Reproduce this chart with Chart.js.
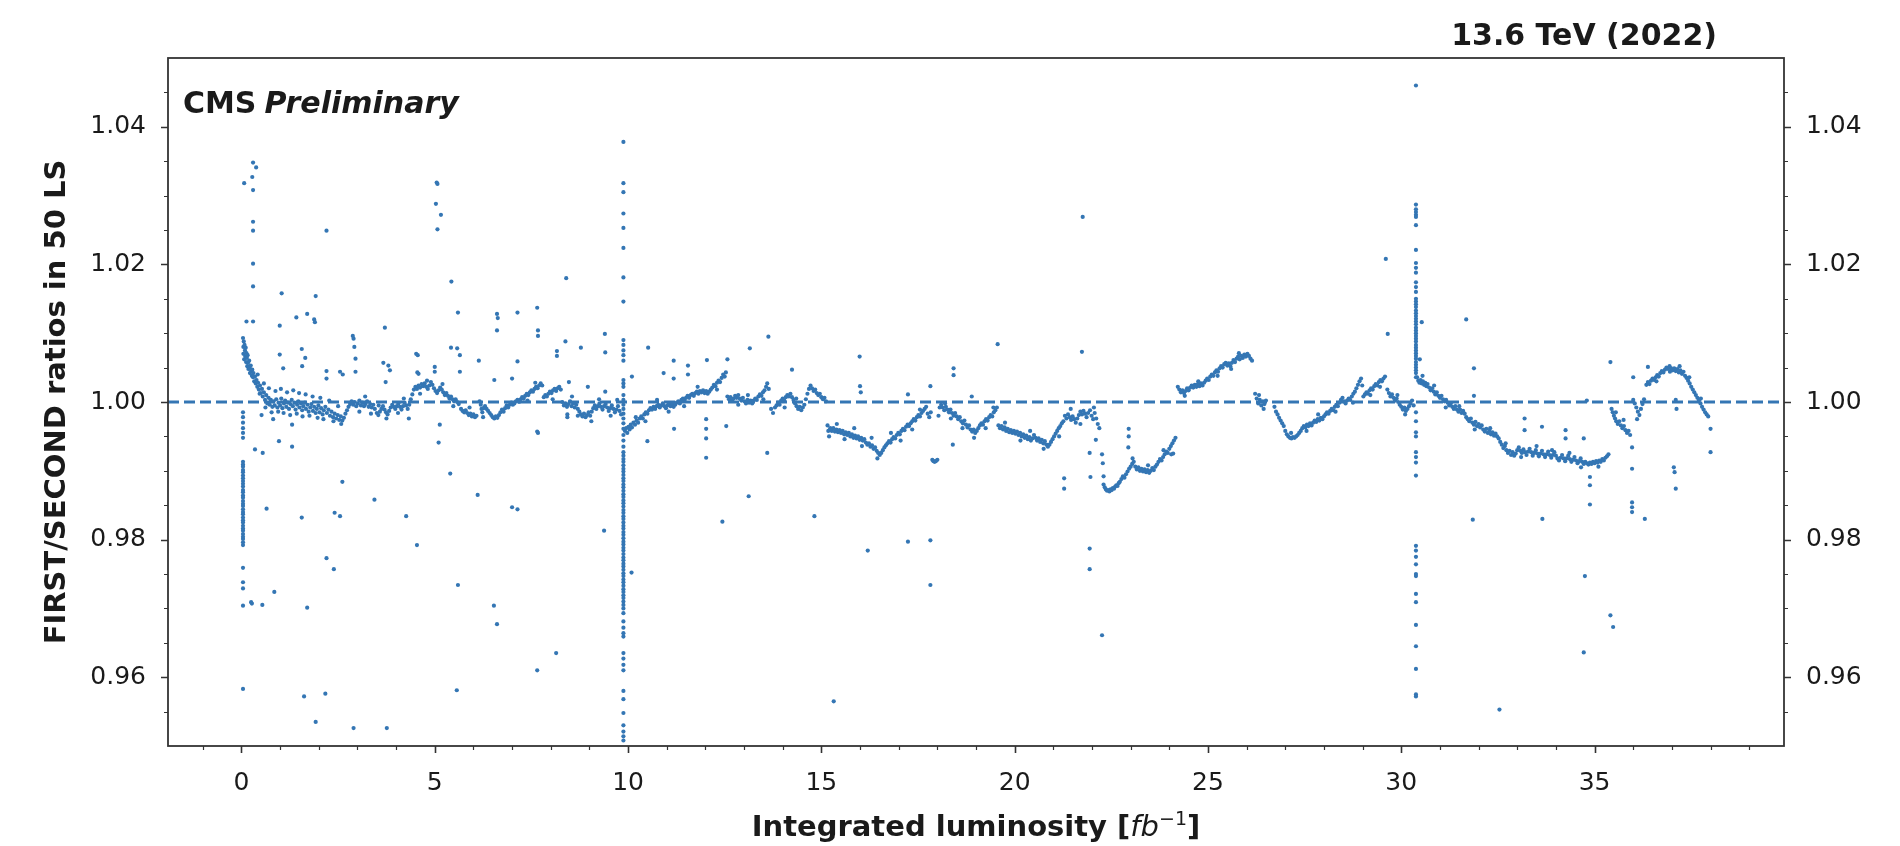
<!DOCTYPE html>
<html>
<head>
<meta charset="utf-8">
<title>FIRST/SECOND ratios in 50 LS</title>
<script src="https://cdn.jsdelivr.net/npm/chart.js@4.4.0/dist/chart.umd.min.js"></script>
<style>
    html, body { margin: 0; padding: 0; background: #ffffff; }
    #ratio-chart { display: block; }
</style>
</head>
<body>
<canvas id="ratio-chart" width="1900" height="846"></canvas>
<script>
// Axis setup
const xLimits = [-1.9, 39.9];
const yLimits = [0.95, 1.05];
const xMajorTicks = [0, 5, 10, 15, 20, 25, 30, 35];
const xMinorTicks = [-1, 1, 2, 3, 4, 6, 7, 8, 9, 11, 12, 13, 14, 16, 17, 18, 19, 21, 22, 23, 24, 26, 27, 28, 29, 31, 32, 33, 34, 36, 37, 38, 39];
const yMajorTicks = [0.96, 0.98, 1.00, 1.02, 1.04];
const yMinorTicks = [0.955, 0.965, 0.97, 0.975, 0.985, 0.99, 0.995, 1.005, 1.01, 1.015, 1.025, 1.03, 1.035, 1.045];
const refRatio = 1.0;

// Main trend [lumi, ratio], run 1 (0 - 9.8 fb-1)
const bandA = [
    [0.04,1.0093],[0.05,1.0080],[0.05,1.0070],[0.06,1.0088],[0.07,1.0062],[0.08,1.0083],[0.09,1.0075],[0.10,1.0066],
    [0.11,1.0079],[0.12,1.0058],[0.13,1.0071],[0.14,1.0064],[0.15,1.0052],[0.16,1.0068],[0.17,1.0057],[0.18,1.0048],
    [0.20,1.0060],[0.21,1.0050],[0.22,1.0042],[0.24,1.0053],[0.25,1.0045],[0.27,1.0038],[0.28,1.0047],[0.30,1.0036],
    [0.31,1.0042],[0.33,1.0030],[0.35,1.0037],[0.37,1.0027],[0.39,1.0032],[0.41,1.0022],[0.43,1.0028],[0.45,1.0018],
    [0.48,1.0024],[0.50,1.0013],[0.53,1.0019],[0.55,1.0008],[0.58,1.0014],[0.61,1.0003],[0.64,1.0010],[0.67,0.9998],
    [0.70,1.0006],[0.73,0.9996],[0.76,1.0003],[0.80,0.9993],[0.83,1.0001],[0.86,0.9995],[0.90,1.0004],[0.93,0.9992],
    [0.96,0.9999],[1.00,0.9995],[1.03,1.0005],[1.06,0.9991],[1.10,0.9998],[1.13,1.0002],[1.16,0.9993],[1.20,0.9999],
    [1.23,0.9990],[1.27,0.9997],[1.30,1.0003],[1.33,0.9994],[1.37,0.9999],[1.40,0.9989],[1.44,0.9996],[1.47,1.0001],
    [1.50,0.9992],[1.54,0.9998],[1.57,0.9988],[1.60,0.9994],[1.64,0.9999],[1.67,0.9990],[1.71,0.9996],[1.74,0.9986],
    [1.78,0.9992],[1.81,0.9997],[1.85,0.9987],[1.88,0.9993],[1.92,0.9984],[1.95,0.9990],[1.99,0.9995],[2.02,0.9985],
    [2.06,0.9991],[2.10,0.9982],[2.13,0.9988],[2.17,0.9993],[2.21,0.9984],[2.25,0.9989],[2.29,0.9980],[2.33,0.9986],
    [2.37,0.9978],[2.41,0.9983],[2.45,0.9976],[2.49,0.9981],[2.53,0.9974],[2.57,0.9979],[2.61,0.9973],[2.65,0.9977],
    [2.69,0.9983],[2.73,0.9988],[2.77,0.9993],[2.81,0.9997],[2.85,1.0001],[2.89,0.9996],[2.93,1.0000],[2.97,0.9994],
    [3.01,0.9998],[3.05,1.0002],[3.09,0.9995],[3.13,0.9999],[3.17,0.9994],[3.21,0.9997],[3.25,1.0001],[3.29,0.9993],
    [3.33,0.9997],[3.37,0.9992],[3.41,0.9996],[3.45,0.9990],[3.50,0.9984],[3.54,0.9981],[3.58,0.9986],[3.62,0.9990],
    [3.66,0.9994],[3.70,0.9989],[3.74,0.9985],[3.78,0.9982],[3.82,0.9987],[3.86,0.9992],[3.90,0.9996],[3.94,0.9993],
    [3.98,0.9990],[4.02,0.9994],[4.06,0.9998],[4.10,0.9993],[4.14,0.9989],[4.18,0.9994],[4.22,0.9999],[4.26,0.9995],
    [4.30,0.9990],[4.34,0.9996],[4.38,1.0004],[4.42,1.0011],[4.46,1.0018],[4.50,1.0022],[4.54,1.0019],[4.58,1.0024],
    [4.62,1.0021],[4.66,1.0026],[4.70,1.0023],[4.74,1.0027],[4.78,1.0022],[4.82,1.0019],[4.86,1.0024],[4.90,1.0029],
    [4.94,1.0025],[4.98,1.0020],[5.02,1.0016],[5.06,1.0013],[5.10,1.0017],[5.14,1.0021],[5.18,1.0018],[5.22,1.0014],
    [5.26,1.0010],[5.30,1.0013],[5.34,1.0009],[5.38,1.0005],[5.42,1.0008],[5.46,1.0004],[5.50,1.0001],[5.54,1.0004],
    [5.58,1.0000],[5.62,0.9997],[5.68,0.9990],[5.72,0.9987],[5.76,0.9985],[5.80,0.9988],[5.84,0.9984],[5.88,0.9981],
    [5.92,0.9983],[5.96,0.9979],[6.00,0.9982],[6.04,0.9978],[6.08,0.9980],[6.16,1.0001],[6.19,0.9996],[6.21,0.9990],
    [6.23,0.9985],[6.26,0.9991],[6.30,0.9994],[6.34,0.9990],[6.38,0.9987],[6.42,0.9984],[6.46,0.9981],[6.50,0.9978],
    [6.54,0.9976],[6.58,0.9979],[6.62,0.9977],[6.66,0.9981],[6.70,0.9985],[6.74,0.9989],[6.78,0.9986],[6.82,0.9991],
    [6.86,0.9995],[6.90,0.9992],[6.94,0.9996],[6.98,0.9999],[7.02,0.9996],[7.06,0.9998],[7.10,1.0001],[7.14,1.0003],
    [7.18,1.0000],[7.22,1.0004],[7.26,1.0007],[7.30,1.0005],[7.34,1.0009],[7.38,1.0012],[7.42,1.0010],[7.46,1.0014],
    [7.50,1.0017],[7.54,1.0015],[7.58,1.0019],[7.62,1.0022],[7.66,1.0020],[7.70,1.0024],[7.74,1.0027],[7.78,1.0024],
    [7.82,1.0007],[7.86,1.0010],[7.90,1.0008],[7.94,1.0012],[7.98,1.0015],[8.02,1.0013],[8.06,1.0017],[8.10,1.0019],
    [8.14,1.0016],[8.18,1.0020],[8.22,1.0022],[8.26,1.0018],[8.30,1.0000],[8.34,0.9995],[8.38,0.9998],[8.42,0.9993],
    [8.46,0.9997],[8.50,1.0001],[8.54,0.9994],[8.58,0.9998],[8.62,0.9992],[8.66,0.9996],[8.70,0.9990],[8.74,0.9986],
    [8.78,0.9982],[8.82,0.9979],[8.86,0.9983],[8.90,0.9978],[8.94,0.9981],[8.98,0.9985],[9.02,0.9980],[9.06,0.9986],
    [9.10,0.9991],[9.14,0.9995],[9.18,0.9990],[9.22,0.9994],[9.26,0.9998],[9.30,0.9993],[9.34,0.9989],[9.38,0.9994],
    [9.42,0.9997],[9.46,0.9992],[9.50,0.9987],[9.54,0.9991],[9.58,0.9995],[9.62,0.9990],[9.66,0.9985],[9.70,0.9989],
    [9.74,0.9994],[9.78,0.9987],[9.82,0.9982]
];

// Main trend, run 2 (9.9 - 24.2 fb-1)
const bandB = [
    [9.92,0.9958],[9.95,0.9962],[9.98,0.9955],[10.01,0.9964],[10.04,0.9960],[10.07,0.9967],[10.10,0.9963],[10.14,0.9970],
    [10.18,0.9967],[10.22,0.9973],[10.26,0.9970],[10.30,0.9976],[10.34,0.9979],[10.38,0.9976],[10.42,0.9982],[10.46,0.9985],
    [10.50,0.9983],[10.54,0.9988],[10.58,0.9991],[10.62,0.9989],[10.66,0.9993],[10.70,0.9990],[10.74,0.9994],[10.78,0.9996],
    [10.82,0.9992],[10.86,0.9995],[10.90,0.9998],[10.94,0.9994],[10.98,0.9991],[11.02,0.9995],[11.06,0.9998],[11.10,0.9994],
    [11.14,0.9997],[11.18,0.9993],[11.22,0.9996],[11.26,0.9999],[11.30,1.0001],[11.34,0.9998],[11.38,1.0003],[11.42,1.0005],
    [11.46,1.0002],[11.50,1.0006],[11.54,1.0009],[11.58,1.0006],[11.62,1.0010],[11.66,1.0012],[11.70,1.0009],[11.74,1.0013],
    [11.78,1.0015],[11.82,1.0012],[11.86,1.0016],[11.90,1.0014],[11.94,1.0017],[11.98,1.0013],[12.02,1.0016],[12.06,1.0012],
    [12.10,1.0015],[12.14,1.0018],[12.18,1.0021],[12.22,1.0025],[12.26,1.0023],[12.30,1.0028],[12.34,1.0031],[12.38,1.0029],
    [12.42,1.0035],[12.46,1.0040],[12.50,1.0037],[12.53,1.0043],[12.57,1.0008],[12.61,1.0004],[12.65,1.0007],[12.69,1.0002],
    [12.73,1.0005],[12.77,1.0009],[12.81,1.0006],[12.85,1.0010],[12.89,1.0005],[12.93,1.0002],[12.97,1.0006],[13.01,1.0001],
    [13.05,0.9998],[13.09,1.0003],[13.13,0.9999],[13.17,1.0002],[13.21,0.9998],[13.25,1.0002],[13.29,1.0005],[13.33,1.0003],
    [13.37,1.0008],[13.41,1.0011],[13.45,1.0009],[13.49,1.0014],[13.53,1.0017],[13.57,1.0022],[13.60,1.0027],[13.64,1.0019],
    [13.70,0.9990],[13.75,0.9984],[13.80,0.9992],[13.84,0.9995],[13.88,0.9999],[13.92,0.9996],[13.96,1.0002],[14.00,1.0005],
    [14.04,1.0002],[14.08,1.0007],[14.12,1.0010],[14.16,1.0008],[14.20,1.0012],[14.24,1.0007],[14.28,1.0003],[14.32,0.9998],
    [14.36,0.9994],[14.40,0.9990],[14.44,0.9993],[14.48,0.9988],[14.52,0.9992],[14.56,0.9996],[14.60,1.0004],[14.64,1.0012],
    [14.68,1.0019],[14.72,1.0024],[14.76,1.0020],[14.80,1.0016],[14.84,1.0018],[14.88,1.0013],[14.92,1.0010],[14.96,1.0012],
    [15.00,1.0007],[15.04,1.0004],[15.08,1.0006],[15.12,1.0001],[15.16,0.9966],[15.18,0.9958],[15.20,0.9950],[15.23,0.9962],
    [15.27,0.9958],[15.31,0.9962],[15.35,0.9957],[15.39,0.9960],[15.43,0.9956],[15.47,0.9959],[15.51,0.9955],[15.55,0.9958],
    [15.59,0.9953],[15.63,0.9956],[15.67,0.9952],[15.71,0.9955],[15.75,0.9950],[15.79,0.9953],[15.83,0.9948],[15.87,0.9951],
    [15.91,0.9947],[15.95,0.9950],[15.99,0.9945],[16.03,0.9948],[16.07,0.9944],[16.11,0.9946],[16.15,0.9941],[16.19,0.9938],
    [16.23,0.9940],[16.27,0.9935],[16.31,0.9937],[16.35,0.9932],[16.39,0.9934],[16.43,0.9929],[16.47,0.9926],[16.51,0.9923],
    [16.55,0.9926],[16.59,0.9930],[16.63,0.9934],[16.67,0.9937],[16.71,0.9940],[16.75,0.9943],[16.79,0.9941],[16.83,0.9946],
    [16.87,0.9949],[16.91,0.9947],[16.95,0.9952],[16.99,0.9955],[17.03,0.9953],[17.07,0.9958],[17.11,0.9961],[17.15,0.9959],
    [17.19,0.9964],[17.23,0.9967],[17.27,0.9965],[17.31,0.9969],[17.35,0.9972],[17.39,0.9975],[17.43,0.9973],[17.47,0.9978],
    [17.51,0.9981],[17.55,0.9979],[17.59,0.9984],[17.63,0.9987],[17.67,0.9990],[17.71,0.9993],[17.75,0.9983],[17.79,0.9978],
    [17.83,0.9985],[17.87,0.9916],[17.90,0.9914],[17.93,0.9913],[17.96,0.9914],[18.00,0.9916],[18.03,0.9980],[18.06,0.9992],
    [18.10,0.9996],[18.14,0.9992],[18.18,0.9988],[18.22,0.9993],[18.26,0.9989],[18.30,0.9985],[18.34,0.9989],[18.38,0.9984],
    [18.42,0.9980],[18.46,0.9984],[18.50,0.9979],[18.54,0.9975],[18.58,0.9978],[18.62,0.9972],[18.66,0.9969],[18.70,0.9973],
    [18.74,0.9967],[18.78,0.9963],[18.82,0.9966],[18.86,0.9960],[18.90,0.9957],[18.94,0.9960],[18.98,0.9955],[19.02,0.9958],
    [19.06,0.9962],[19.10,0.9966],[19.14,0.9969],[19.18,0.9967],[19.22,0.9972],[19.26,0.9975],[19.30,0.9973],[19.34,0.9978],
    [19.38,0.9981],[19.42,0.9979],[19.46,0.9985],[19.50,0.9988],[19.54,0.9992],[19.58,0.9966],[19.62,0.9962],[19.66,0.9965],
    [19.70,0.9960],[19.74,0.9963],[19.78,0.9958],[19.82,0.9961],[19.86,0.9956],[19.90,0.9959],[19.94,0.9955],[19.98,0.9958],
    [20.02,0.9954],[20.06,0.9957],[20.10,0.9952],[20.14,0.9955],[20.18,0.9950],[20.22,0.9953],[20.26,0.9948],[20.30,0.9951],
    [20.34,0.9946],[20.38,0.9949],[20.42,0.9944],[20.46,0.9947],[20.50,0.9952],[20.54,0.9948],[20.58,0.9944],[20.62,0.9947],
    [20.66,0.9942],[20.70,0.9945],[20.74,0.9940],[20.78,0.9943],[20.82,0.9938],[20.86,0.9935],[20.90,0.9938],[20.94,0.9942],
    [20.98,0.9946],[21.02,0.9950],[21.06,0.9954],[21.10,0.9958],[21.14,0.9962],[21.18,0.9965],[21.22,0.9969],[21.26,0.9972],
    [21.30,0.9980],[21.34,0.9976],[21.38,0.9982],[21.42,0.9978],[21.46,0.9974],[21.50,0.9979],[21.54,0.9975],[21.58,0.9970],
    [21.62,0.9976],[21.66,0.9981],[21.70,0.9986],[21.74,0.9982],[21.78,0.9987],[21.82,0.9983],[21.86,0.9978],[21.90,0.9984],
    [21.95,0.9988],[21.99,0.9980],[22.03,0.9975],[22.07,0.9984],[22.11,0.9976],[22.15,0.9968],[22.19,0.9962],[22.30,0.9880],
    [22.33,0.9876],[22.36,0.9873],[22.39,0.9871],[22.42,0.9872],[22.45,0.9870],[22.48,0.9873],[22.51,0.9872],[22.54,0.9875],
    [22.57,0.9874],[22.60,0.9877],[22.63,0.9879],[22.66,0.9878],[22.69,0.9882],[22.72,0.9884],[22.76,0.9888],[22.80,0.9892],
    [22.84,0.9890],[22.88,0.9895],[22.92,0.9899],[22.96,0.9903],[23.00,0.9906],[23.04,0.9910],[23.08,0.9913],[23.12,0.9906],
    [23.16,0.9902],[23.20,0.9905],[23.24,0.9900],[23.28,0.9903],[23.32,0.9899],[23.36,0.9902],[23.40,0.9898],[23.44,0.9901],
    [23.48,0.9897],[23.52,0.9900],[23.56,0.9904],[23.60,0.9901],[23.64,0.9906],[23.68,0.9909],[23.72,0.9913],[23.76,0.9917],
    [23.80,0.9915],[23.84,0.9920],[23.88,0.9924],[23.92,0.9928],[23.96,0.9926],[24.00,0.9932],[24.04,0.9936],[24.08,0.9940],
    [24.12,0.9944],[24.16,0.9948]
];

// Main trend, run 3 (24.2 - 38 fb-1)
const bandC = [
    [24.22,1.0022],[24.26,1.0018],[24.30,1.0014],[24.34,1.0017],[24.38,1.0013],[24.42,1.0016],[24.46,1.0020],[24.50,1.0017],
    [24.54,1.0021],[24.58,1.0024],[24.62,1.0021],[24.66,1.0025],[24.70,1.0022],[24.74,1.0026],[24.78,1.0023],[24.82,1.0027],
    [24.86,1.0024],[24.90,1.0028],[24.94,1.0031],[24.98,1.0034],[25.02,1.0032],[25.06,1.0037],[25.10,1.0040],[25.14,1.0038],
    [25.18,1.0043],[25.22,1.0046],[25.26,1.0044],[25.30,1.0049],[25.34,1.0052],[25.38,1.0050],[25.42,1.0055],[25.46,1.0057],
    [25.50,1.0053],[25.54,1.0056],[25.58,1.0052],[25.62,1.0057],[25.66,1.0061],[25.70,1.0058],[25.74,1.0063],[25.78,1.0066],
    [25.82,1.0062],[25.86,1.0067],[25.90,1.0064],[25.94,1.0069],[25.98,1.0066],[26.02,1.0070],[26.06,1.0067],[26.10,1.0063],
    [26.14,1.0060],[26.22,1.0012],[26.26,1.0005],[26.30,0.9998],[26.34,1.0003],[26.38,0.9995],[26.42,1.0001],[26.46,0.9997],
    [26.50,1.0002],[26.72,0.9993],[26.76,0.9986],[26.80,0.9982],[26.84,0.9977],[26.88,0.9973],[26.92,0.9969],[26.96,0.9965],
    [27.00,0.9958],[27.04,0.9953],[27.08,0.9950],[27.12,0.9948],[27.16,0.9947],[27.20,0.9949],[27.24,0.9948],[27.28,0.9950],
    [27.32,0.9952],[27.36,0.9955],[27.40,0.9958],[27.44,0.9962],[27.48,0.9965],[27.52,0.9963],[27.56,0.9967],[27.60,0.9965],
    [27.64,0.9969],[27.68,0.9966],[27.72,0.9970],[27.76,0.9973],[27.80,0.9971],[27.84,0.9975],[27.88,0.9973],[27.92,0.9977],
    [27.96,0.9975],[28.00,0.9979],[28.04,0.9982],[28.08,0.9985],[28.12,0.9983],[28.16,0.9987],[28.20,0.9990],[28.24,0.9988],
    [28.28,0.9993],[28.32,0.9996],[28.36,0.9994],[28.40,0.9999],[28.44,1.0003],[28.48,1.0006],[28.52,1.0001],[28.56,0.9998],
    [28.60,1.0002],[28.64,1.0005],[28.68,1.0003],[28.72,1.0008],[28.76,1.0012],[28.80,1.0015],[28.84,1.0020],[28.88,1.0025],
    [28.92,1.0030],[28.96,1.0034],[28.99,1.0024],[29.02,1.0008],[29.06,1.0011],[29.10,1.0014],[29.14,1.0012],[29.18,1.0017],
    [29.22,1.0020],[29.26,1.0018],[29.30,1.0023],[29.34,1.0026],[29.38,1.0024],[29.42,1.0029],[29.46,1.0032],[29.50,1.0030],
    [29.54,1.0034],[29.58,1.0037],[29.64,1.0018],[29.68,1.0013],[29.72,1.0008],[29.76,1.0011],[29.80,1.0006],[29.84,1.0002],
    [29.88,1.0005],[29.92,1.0000],[29.96,0.9996],[30.00,0.9993],[30.04,0.9989],[30.08,0.9992],[30.12,0.9987],[30.16,0.9990],
    [30.20,0.9994],[30.24,0.9998],[30.28,1.0002],[30.32,0.9995],[30.41,1.0036],[30.44,1.0031],[30.47,1.0028],[30.50,1.0032],
    [30.53,1.0027],[30.56,1.0030],[30.59,1.0025],[30.62,1.0028],[30.65,1.0023],[30.68,1.0026],[30.72,1.0021],[30.76,1.0017],
    [30.80,1.0020],[30.84,1.0015],[30.88,1.0011],[30.92,1.0014],[30.96,1.0009],[31.00,1.0006],[31.04,1.0009],[31.08,1.0004],
    [31.12,1.0001],[31.16,1.0003],[31.20,0.9999],[31.24,0.9995],[31.28,0.9998],[31.32,0.9993],[31.36,0.9990],[31.40,0.9994],
    [31.44,0.9989],[31.48,0.9986],[31.52,0.9989],[31.56,0.9984],[31.60,0.9987],[31.64,0.9983],[31.68,0.9978],[31.72,0.9975],
    [31.76,0.9972],[31.80,0.9976],[31.84,0.9970],[31.88,0.9967],[31.92,0.9971],[31.96,0.9965],[32.00,0.9968],[32.04,0.9963],
    [32.08,0.9966],[32.12,0.9960],[32.16,0.9957],[32.20,0.9961],[32.24,0.9955],[32.28,0.9958],[32.32,0.9953],[32.36,0.9956],
    [32.40,0.9951],[32.44,0.9954],[32.48,0.9950],[32.52,0.9947],[32.56,0.9942],[32.60,0.9938],[32.64,0.9933],[32.68,0.9936],
    [32.72,0.9930],[32.76,0.9926],[32.80,0.9929],[32.84,0.9923],[32.88,0.9927],[32.92,0.9922],[32.96,0.9925],[33.00,0.9930],
    [33.04,0.9934],[33.08,0.9929],[33.12,0.9926],[33.16,0.9931],[33.20,0.9927],[33.24,0.9923],[33.28,0.9928],[33.32,0.9932],
    [33.36,0.9927],[33.40,0.9922],[33.44,0.9926],[33.48,0.9930],[33.52,0.9925],[33.56,0.9921],[33.60,0.9925],[33.64,0.9929],
    [33.68,0.9924],[33.72,0.9920],[33.76,0.9924],[33.80,0.9928],[33.84,0.9923],[33.88,0.9919],[33.92,0.9923],[33.96,0.9927],
    [34.00,0.9922],[34.04,0.9918],[34.08,0.9915],[34.12,0.9919],[34.16,0.9923],[34.20,0.9918],[34.24,0.9914],[34.28,0.9918],
    [34.32,0.9922],[34.36,0.9917],[34.40,0.9913],[34.44,0.9916],[34.48,0.9920],[34.52,0.9915],[34.56,0.9911],[34.60,0.9914],
    [34.64,0.9918],[34.68,0.9913],[34.72,0.9910],[34.76,0.9913],[34.80,0.9911],[34.84,0.9909],[34.88,0.9912],[34.92,0.9910],
    [34.96,0.9913],[35.00,0.9911],[35.04,0.9914],[35.08,0.9912],[35.12,0.9915],[35.16,0.9913],[35.20,0.9917],[35.24,0.9915],
    [35.28,0.9919],[35.32,0.9921],[35.36,0.9924],[35.44,0.9990],[35.47,0.9985],[35.50,0.9980],[35.53,0.9976],[35.56,0.9972],
    [35.60,0.9968],[35.64,0.9972],[35.68,0.9966],[35.72,0.9962],[35.76,0.9965],[35.80,0.9959],[35.84,0.9955],[35.88,0.9958],
    [35.92,0.9952],[36.00,1.0003],[36.04,0.9998],[36.08,0.9992],[36.12,0.9986],[36.16,0.9981],[36.20,0.9990],[36.24,0.9997],
    [36.28,1.0004],[36.34,1.0025],[36.38,1.0029],[36.42,1.0026],[36.46,1.0031],[36.50,1.0034],[36.54,1.0032],[36.58,1.0036],
    [36.62,1.0039],[36.66,1.0037],[36.70,1.0042],[36.74,1.0045],[36.78,1.0043],[36.82,1.0047],[36.86,1.0050],[36.90,1.0048],
    [36.94,1.0052],[36.98,1.0049],[37.02,1.0046],[37.06,1.0049],[37.10,1.0045],[37.14,1.0048],[37.18,1.0043],[37.22,1.0046],
    [37.26,1.0041],[37.30,1.0044],[37.34,1.0038],[37.38,1.0035],[37.42,1.0031],[37.46,1.0027],[37.50,1.0022],[37.54,1.0018],
    [37.58,1.0014],[37.62,1.0010],[37.66,1.0006],[37.70,1.0002],[37.74,0.9998],[37.78,0.9993],[37.82,0.9989],[37.86,0.9985],
    [37.90,0.9982],[37.94,0.9979]
];

// Scatter hugging the trend
const bandSpread = [
    [0.42,1.0040],[0.47,1.0012],[0.58,1.0027],[0.62,0.9992],[0.71,1.0020],[0.78,0.9985],[0.88,1.0016],[0.95,0.9986],
    [1.02,1.0019],[1.09,0.9984],[1.18,1.0014],[1.26,0.9981],[1.34,1.0017],[1.43,0.9983],[1.49,1.0013],[1.58,0.9979],
    [1.66,1.0011],[1.76,0.9980],[1.84,1.0008],[1.97,0.9977],[2.04,1.0006],[2.12,0.9975],[2.27,1.0002],[2.38,0.9972],
    [2.50,0.9994],[2.58,0.9968],[3.05,0.9986],[3.20,1.0008],[3.35,0.9983],[3.55,0.9995],[3.75,0.9976],[4.05,0.9984],
    [4.20,1.0005],[4.33,0.9976],[4.62,1.0012],[4.80,1.0031],[5.20,1.0026],[5.48,0.9994],[5.90,0.9992],[6.25,0.9978],
    [7.40,1.0002],[7.60,1.0028],[8.05,1.0004],[8.55,1.0008],[8.70,0.9980],[9.05,0.9972],[9.25,1.0004],[9.55,0.9980],
    [9.72,1.0003],[10.20,0.9978],[10.45,0.9972],[10.75,1.0003],[11.05,0.9986],[11.45,0.9994],[11.80,1.0022],[12.30,1.0018],
    [12.85,0.9996],[13.10,1.0010],[13.50,1.0004],[14.05,0.9992],[14.35,1.0005],[15.40,0.9968],[15.60,0.9946],[15.85,0.9962],
    [16.05,0.9936],[16.30,0.9948],[16.45,0.9918],[16.80,0.9955],[17.05,0.9944],[17.35,0.9960],[17.55,0.9989],[18.20,0.9998],
    [18.35,0.9976],[18.65,0.9962],[18.95,0.9948],[19.25,0.9962],[19.45,0.9992],[19.75,0.9970],[20.15,0.9944],[20.40,0.9958],
    [20.75,0.9932],[21.15,0.9950],[21.45,0.9990],[21.70,0.9968],[22.05,0.9992],[23.05,0.9918],[23.45,0.9908],[23.85,0.9930],
    [24.05,0.9924],[24.40,1.0009],[24.75,1.0030],[25.25,1.0038],[25.60,1.0048],[25.80,1.0071],[26.32,1.0010],[26.44,0.9990],
    [27.15,0.9955],[27.55,0.9958],[27.85,0.9982],[28.30,0.9986],[28.75,0.9999],[29.20,1.0010],[29.45,1.0022],[29.90,1.0010],
    [30.10,0.9982],[30.55,1.0038],[30.85,1.0024],[31.15,0.9992],[31.50,0.9994],[31.90,0.9960],[32.30,0.9962],[32.70,0.9940],
    [33.10,0.9920],[33.50,0.9936],[33.90,0.9930],[34.35,0.9926],[34.65,0.9905],[35.10,0.9906],[35.55,0.9985],[35.75,0.9974],
    [36.10,0.9975],[36.60,1.0030],[36.95,1.0044],[37.20,1.0052],[37.45,1.0036],[37.75,1.0005]
];

// Isolated outliers
const strays = [
    [0.07,1.0318],[0.28,1.0327],[0.30,1.0348],[0.38,1.0341],[0.30,1.0308],[0.30,1.0262],[0.30,1.0249],[0.30,1.0201],
    [0.30,1.0168],[1.04,1.0158],[1.92,1.0154],[2.20,1.0249],[5.05,1.0319],[5.07,1.0317],[5.03,1.0288],[5.16,1.0272],
    [5.07,1.0251],[5.43,1.0175],[8.40,1.0180],[21.76,1.0269],[29.60,1.0208],
    [0.13,1.0117],[0.30,1.0117],[0.99,1.0111],[1.42,1.0123],[1.70,1.0128],[1.88,1.0120],[1.90,1.0116],[3.71,1.0108],
    [2.88,1.0096],[2.90,1.0092],[2.92,1.0080],[2.95,1.0063],[2.95,1.0044],[5.60,1.0130],[5.42,1.0079],[5.58,1.0078],
    [5.65,1.0068],[5.65,1.0044],[6.61,1.0128],[6.63,1.0122],[6.61,1.0104],[7.14,1.0130],[7.65,1.0137],[7.67,1.0104],
    [7.67,1.0096],[8.38,1.0088],[8.16,1.0074],[8.16,1.0067],[8.78,1.0079],[9.40,1.0099],[9.41,1.0072],[4.52,1.0070],
    [4.55,1.0043],[6.14,1.0060],[7.14,1.0059],[1.56,1.0077],[1.65,1.0064],[0.99,1.0069],[1.08,1.0049],[1.57,1.0052],
    [3.67,1.0057],[3.80,1.0053],[3.84,1.0046],[3.73,1.0029],[4.56,1.0068],[4.58,1.0041],[5.00,1.0051],[5.00,1.0044],
    [6.54,1.0032],[7.00,1.0034],[8.47,1.0029],[8.96,1.0022],[9.41,1.0015],[2.20,1.0045],[2.20,1.0034],[2.55,1.0044],
    [2.62,1.0040],[10.52,1.0079],[10.10,1.0037],[11.18,1.0060],[11.18,1.0034],[11.55,1.0053],[11.55,1.0040],[10.92,1.0042],
    [12.04,1.0061],[12.57,1.0062],[13.15,1.0078],[13.63,1.0095],[14.24,1.0047],[15.99,1.0066],[16.00,1.0023],[16.02,1.0014],
    [17.82,1.0023],[17.24,1.0011],[18.42,1.0049],[18.42,1.0039],[18.89,1.0008],[19.56,1.0084],[21.74,1.0073],[29.65,1.0099],
    [30.53,1.0116],[30.48,1.0062],[31.68,1.0120],[31.88,1.0049],[31.88,1.0009],[35.41,1.0058],[36.00,1.0036],[36.38,1.0051],
    [0.52,0.9981],[0.82,0.9975],[1.31,0.9967],[1.31,0.9935],[0.97,0.9943],[0.35,0.9931],[0.55,0.9926],[5.13,0.9967],
    [5.10,0.9941],[7.67,0.9955],[10.50,0.9943],[11.19,0.9961],[8.43,0.9982],[8.43,0.9978],[5.40,0.9896],[2.61,0.9884],
    [6.11,0.9865],[3.44,0.9858],[7.00,0.9847],[7.14,0.9844],[4.26,0.9834],[2.41,0.9839],[2.55,0.9834],[1.56,0.9832],
    [0.65,0.9845],[2.20,0.9773],[2.39,0.9757],[4.54,0.9792],[9.38,0.9813],[7.65,0.9957],[0.25,0.9709],[0.27,0.9707],
    [0.54,0.9705],[0.85,0.9724],[1.70,0.9701],[5.60,0.9734],[6.53,0.9704],[6.61,0.9677],[8.14,0.9635],[7.65,0.9610],
    [1.62,0.9572],[2.17,0.9576],[1.92,0.9535],[2.90,0.9526],[3.76,0.9526],[5.57,0.9581],[10.09,0.9752],[17.82,0.9734],
    [21.94,0.9757],[22.26,0.9661],[15.32,0.9565],[12.02,0.9975],[12.02,0.9961],[12.02,0.9947],[12.02,0.9919],[12.54,0.9965],
    [13.60,0.9926],[13.12,0.9863],[12.44,0.9826],[14.82,0.9834],[16.20,0.9784],[17.24,0.9797],[17.82,0.9799],[21.94,0.9787],
    [21.28,0.9889],[21.28,0.9874],[21.94,0.9926],[21.96,0.9891],[22.10,0.9945],[22.26,0.9924],[22.28,0.9911],[22.30,0.9892],
    [22.95,0.9961],[22.95,0.9950],[22.94,0.9934],[24.10,0.9925],[18.40,0.9938],[33.19,0.9976],[33.19,0.9959],[33.64,0.9964],
    [34.25,0.9959],[34.25,0.9947],[34.72,0.9947],[34.88,0.9891],[34.88,0.9879],[34.88,0.9851],[35.97,0.9934],[35.97,0.9903],
    [35.97,0.9854],[35.97,0.9847],[35.97,0.9840],[36.30,0.9830],[37.05,0.9905],[37.07,0.9898],[37.10,0.9874],[38.00,0.9961],
    [38.00,0.9927],[34.80,1.0002],[37.10,1.0003],[37.12,0.9990],[31.85,0.9829],[33.65,0.9830],[32.54,0.9553],[34.75,0.9747],
    [34.72,0.9636],[35.41,0.9690],[35.48,0.9673]
];

// Vertical columns at fill starts
const spikeLumi = [0.04, 9.88, 30.38];
const spike0Ratios = [
    0.9985, 0.9978, 0.9970, 0.9962, 0.9955, 0.9948, 0.9913, 0.9909, 0.9906, 0.9901, 0.9898, 0.9893, 0.9889, 0.9885,
    0.9881, 0.9877, 0.9872, 0.9869, 0.9864, 0.9861, 0.9856, 0.9852, 0.9849, 0.9844, 0.9840, 0.9837, 0.9832, 0.9828,
    0.9825, 0.9820, 0.9816, 0.9813, 0.9808, 0.9804, 0.9801, 0.9796, 0.9792, 0.9759, 0.9738, 0.9729, 0.9704, 0.9583
];
const spike10Ratios = [
    1.0378, 1.0318, 1.0305, 1.0274, 1.0253, 1.0224, 1.0181, 1.0146, 1.0090, 1.0083, 1.0075, 1.0068, 1.0060, 1.0032,
    1.0027, 1.0022, 1.0010, 1.0003, 0.9996, 0.9990, 0.9983, 0.9976, 0.9969, 0.9961, 0.9952, 0.9944, 0.9935, 0.9927,
    0.9922, 0.9917, 0.9913, 0.9908, 0.9903, 0.9899, 0.9894, 0.9889, 0.9885, 0.9880, 0.9876, 0.9871, 0.9866, 0.9862,
    0.9857, 0.9853, 0.9848, 0.9843, 0.9839, 0.9834, 0.9830, 0.9825, 0.9820, 0.9816, 0.9811, 0.9807, 0.9802, 0.9797,
    0.9793, 0.9788, 0.9784, 0.9779, 0.9774, 0.9770, 0.9765, 0.9761, 0.9756, 0.9751, 0.9747, 0.9742, 0.9738, 0.9733,
    0.9728, 0.9724, 0.9719, 0.9715, 0.9710, 0.9705, 0.9700, 0.9693, 0.9681, 0.9672, 0.9664, 0.9659, 0.9635, 0.9627,
    0.9618, 0.9610, 0.9580, 0.9568, 0.9548, 0.9530, 0.9521, 0.9514, 0.9508
];
const spike30Ratios = [
    1.0460, 1.0287, 1.0280, 1.0276, 1.0272, 1.0269, 1.0257, 1.0221, 1.0202, 1.0195, 1.0188, 1.0174, 1.0167, 1.0160,
    1.0150, 1.0146, 1.0142, 1.0138, 1.0133, 1.0129, 1.0125, 1.0121, 1.0117, 1.0113, 1.0108, 1.0104, 1.0100, 1.0096,
    1.0092, 1.0088, 1.0083, 1.0079, 1.0075, 1.0071, 1.0067, 1.0063, 1.0058, 1.0054, 1.0050, 1.0046, 1.0042, 1.0036,
    0.9985, 0.9972, 0.9956, 0.9950, 0.9927, 0.9920, 0.9912, 0.9893, 0.9791, 0.9784, 0.9775, 0.9764, 0.9750, 0.9747,
    0.9721, 0.9709, 0.9676, 0.9645, 0.9612, 0.9575, 0.9572
];

const LumiRatioPlot = {
    chart: null,
    pointColor: '#3476b4',
    axisColor: '#333333',
    textColor: '#1a1a1a',
    font: '"DejaVu Sans", "Liberation Sans", sans-serif',

    collectPoints() {
        const pairs = [...bandA, ...bandB, ...bandC, ...bandSpread, ...strays];
        const points = pairs.map(([x, y]) => ({ x, y }));
        [spike0Ratios, spike10Ratios, spike30Ratios].forEach((ratios, i) => {
            ratios.forEach(y => points.push({ x: spikeLumi[i], y }));
        });
        return points;
    },

    // spines, major and minor ticks, free text
    decorations() {
        const self = this;
        return {
            id: 'decorations',
            afterDraw(chart) {
                const { ctx, chartArea: area, scales } = chart;
                ctx.save();
                ctx.strokeStyle = self.axisColor;

                const drawX = (values, len, width) => {
                    ctx.lineWidth = width;
                    values.forEach(v => {
                        const px = Math.round(scales.x.getPixelForValue(v)) + 0.5;
                        ctx.beginPath();
                        ctx.moveTo(px, area.bottom);
                        ctx.lineTo(px, area.bottom + len);
                        ctx.stroke();
                    });
                };
                const drawY = (values, len, width) => {
                    ctx.lineWidth = width;
                    values.forEach(v => {
                        const py = Math.round(scales.y.getPixelForValue(v)) + 0.5;
                        ctx.beginPath();
                        ctx.moveTo(area.left - len, py);
                        ctx.lineTo(area.left, py);
                        ctx.moveTo(area.right, py);
                        ctx.lineTo(area.right + len, py);
                        ctx.stroke();
                    });
                };
                drawX(xMajorTicks, 7, 1.6);
                drawX(xMinorTicks, 4, 1.2);
                drawY(yMajorTicks, 7, 1.6);
                drawY(yMinorTicks, 4, 1.2);

                ctx.lineWidth = 1.8;
                ctx.strokeRect(area.left, area.top, area.right - area.left, area.bottom - area.top);

                ctx.fillStyle = self.textColor;
                ctx.textBaseline = 'alphabetic';

                // energy label
                ctx.font = 'bold 30px ' + self.font;
                ctx.textAlign = 'right';
                ctx.fillText('13.6 TeV (2022)', 1717, 45);

                // experiment label
                ctx.textAlign = 'left';
                ctx.font = 'bold 30px ' + self.font;
                ctx.fillText('CMS', 183, 113);
                const cmsWidth = ctx.measureText('CMS').width;
                ctx.font = 'italic bold 30px ' + self.font;
                ctx.fillText('Preliminary', 183 + cmsWidth + 8, 113);

                // x axis title with italic fb and superscript
                const mainFont = 'bold 29px ' + self.font;
                const italicFont = 'italic 29px ' + self.font;
                const supFont = '19px ' + self.font;
                const parts = [
                    { text: 'Integrated luminosity [', font: mainFont, dy: 0 },
                    { text: 'fb', font: italicFont, dy: 0 },
                    { text: '\u22121', font: supFont, dy: -11 },
                    { text: ']', font: mainFont, dy: 0 }
                ];
                let total = 0;
                parts.forEach(p => {
                    ctx.font = p.font;
                    p.width = ctx.measureText(p.text).width;
                    total += p.width;
                });
                let cx = (area.left + area.right) / 2 - total / 2;
                parts.forEach(p => {
                    ctx.font = p.font;
                    ctx.fillText(p.text, cx, 836 + p.dy);
                    cx += p.width;
                });
                ctx.restore();
            }
        };
    },

    yScale(position, width) {
        return {
            type: 'linear',
            position: position,
            min: yLimits[0],
            max: yLimits[1],
            afterBuildTicks: scale => {
                scale.ticks = yMajorTicks.map(v => ({ value: v }));
            },
            afterFit: scale => {
                scale.width = width;
            },
            grid: { display: false },
            border: { display: false },
            ticks: {
                padding: 14,
                color: this.textColor,
                font: { family: this.font, size: 25 },
                callback: value => value.toFixed(2)
            }
        };
    },

    initialize() {
        const ctx = document.getElementById('ratio-chart');
        const yLeft = this.yScale('left', 168);
        yLeft.title = {
            display: true,
            text: 'FIRST/SECOND ratios in 50 LS',
            color: this.textColor,
            font: { family: this.font, size: 29, weight: 'bold' },
            padding: { top: 40, bottom: 0 }
        };

        this.chart = new Chart(ctx, {
            type: 'scatter',
            data: {
                datasets: [
                    {
                        type: 'line',
                        data: [{ x: xLimits[0], y: refRatio }, { x: xLimits[1], y: refRatio }],
                        borderColor: this.pointColor,
                        borderWidth: 3,
                        borderDash: [11, 5],
                        pointRadius: 0,
                        fill: false,
                        order: 0
                    },
                    {
                        data: this.collectPoints(),
                        backgroundColor: this.pointColor,
                        borderWidth: 0,
                        pointRadius: 2.1,
                        pointHoverRadius: 2.1,
                        order: 1
                    }
                ]
            },
            options: {
                responsive: false,
                devicePixelRatio: 1,
                animation: false,
                layout: { padding: { top: 58, left: 0, right: 0, bottom: 0 } },
                plugins: {
                    legend: { display: false },
                    tooltip: { enabled: false }
                },
                scales: {
                    x: {
                        type: 'linear',
                        min: xLimits[0],
                        max: xLimits[1],
                        afterBuildTicks: scale => {
                            scale.ticks = xMajorTicks.map(v => ({ value: v }));
                        },
                        afterFit: scale => {
                            scale.height = 100;
                        },
                        grid: { display: false },
                        border: { display: false },
                        ticks: {
                            padding: 14,
                            maxRotation: 0,
                            color: this.textColor,
                            font: { family: this.font, size: 25 },
                            callback: value => String(value)
                        }
                    },
                    y: yLeft,
                    y2: this.yScale('right', 116)
                }
            },
            plugins: [this.decorations()]
        });
    }
};

LumiRatioPlot.initialize();
</script>
</body>
</html>
